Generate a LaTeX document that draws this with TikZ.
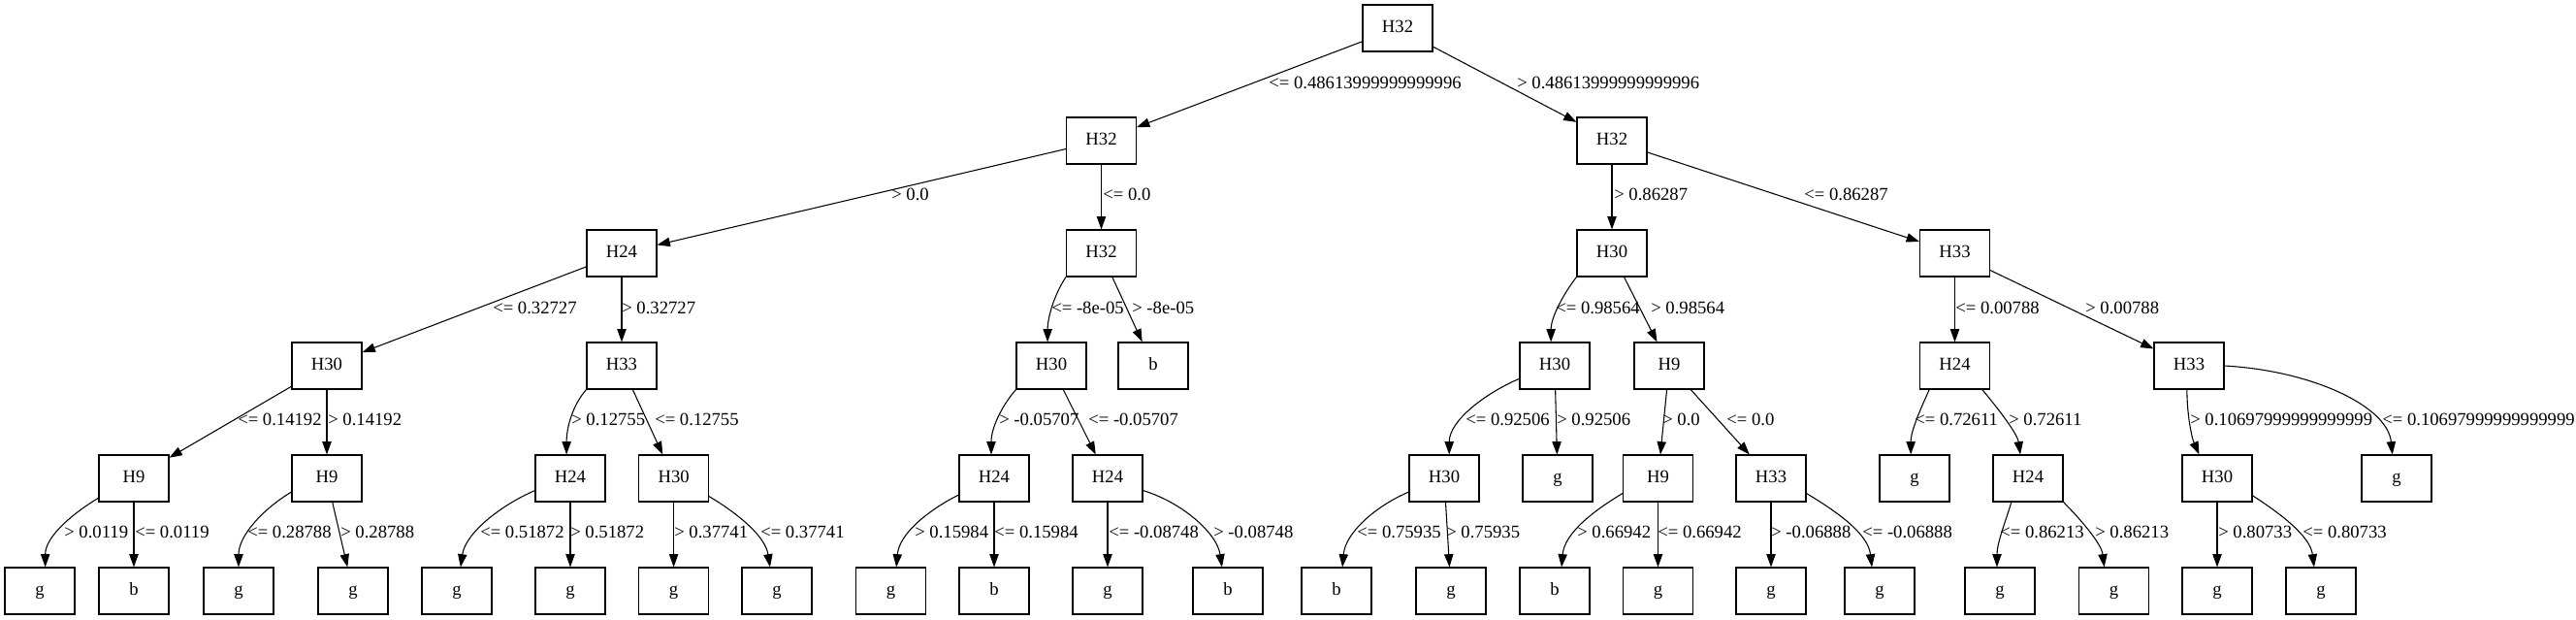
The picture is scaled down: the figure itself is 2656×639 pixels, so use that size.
\documentclass[tikz,border=0pt]{standalone}
\usepackage{fontspec}
\setmainfont{Liberation Serif}
\usetikzlibrary{arrows.meta}

\tikzset{
    dnode/.style={draw, line width=0.8pt, minimum width=54pt, minimum height=36pt, inner sep=0pt,
        text height=0.66em, text depth=0pt, font=\fontsize{14}{16}\selectfont},
    elabel/.style={anchor=west, inner sep=0pt, text height=0.66em, text depth=0pt,
        font=\fontsize{14}{16}\selectfont},
    conn/.style={line width=0.8pt, -{Triangle[length=10pt, width=7pt]}}
}

\begin{document}
\begin{tikzpicture}[x=0.75pt, y=-0.75pt]
    \useasboundingbox (0, 0) rectangle (2656, 639);

    \node [dnode] (t) at (1441, 29) {H32};

    \node [dnode] (tl) at (1135.5, 145) {H32};
    \node [dnode] (tr) at (1662, 145) {H32};

    \node [dnode] (tll) at (641, 261) {H24};
    \node [dnode] (tlr) at (1135.5, 261) {H32};
    \node [dnode] (trl) at (1662, 261) {H30};
    \node [dnode] (trr) at (2015.5, 261) {H33};

    \node [dnode] (tlll) at (337, 377) {H30};
    \node [dnode] (tllr) at (641, 377) {H33};
    \node [dnode] (tlrl) at (1084, 377) {H30};
    \node [dnode] (tlrr) at (1189, 377) {b};
    \node [dnode] (trll) at (1603, 377) {H30};
    \node [dnode] (trlr) at (1721, 377) {H9};
    \node [dnode] (trrl) at (2015.5, 377) {H24};
    \node [dnode] (trrr) at (2257, 377) {H33};

    \node [dnode] (tllll) at (138, 493) {H9};
    \node [dnode] (tlllr) at (337, 493) {H9};
    \node [dnode] (tllrl) at (588, 493) {H24};
    \node [dnode] (tllrr) at (694.6, 493) {H30};
    \node [dnode] (tlrll) at (1025, 493) {H24};
    \node [dnode] (tlrlr) at (1142, 493) {H24};
    \node [dnode] (trlll) at (1489, 493) {H30};
    \node [dnode] (trllr) at (1606, 493) {g};
    \node [dnode] (trlrl) at (1709.5, 493) {H9};
    \node [dnode] (trlrr) at (1826, 493) {H33};
    \node [dnode] (trrll) at (1974, 493) {g};
    \node [dnode] (trrlr) at (2091, 493) {H24};
    \node [dnode] (trrrl) at (2286, 493) {H30};
    \node [dnode] (trrrr) at (2471, 493) {g};

    \node [dnode] (tlllll) at (41, 609) {g};
    \node [dnode] (tllllr) at (138, 609) {b};
    \node [dnode] (tlllrl) at (246, 609) {g};
    \node [dnode] (tlllrr) at (364, 609) {g};
    \node [dnode] (tllrll) at (471, 609) {g};
    \node [dnode] (tllrlr) at (588, 609) {g};
    \node [dnode] (tllrrl) at (694.6, 609) {g};
    \node [dnode] (tllrrr) at (801, 609) {g};
    \node [dnode] (tlrlll) at (918.5, 609) {g};
    \node [dnode] (tlrllr) at (1025, 609) {b};
    \node [dnode] (tlrlrl) at (1142, 609) {g};
    \node [dnode] (tlrlrr) at (1266, 609) {b};
    \node [dnode] (trllll) at (1378, 609) {b};
    \node [dnode] (trlllr) at (1496, 609) {g};
    \node [dnode] (trlrll) at (1603, 609) {b};
    \node [dnode] (trlrlr) at (1709.5, 609) {g};
    \node [dnode] (trlrrl) at (1826, 609) {g};
    \node [dnode] (trlrrr) at (1938, 609) {g};
    \node [dnode] (trrlrl) at (2062, 609) {g};
    \node [dnode] (trrlrr) at (2179.5, 609) {g};
    \node [dnode] (trrrll) at (2286, 609) {g};
    \node [dnode] (trrrlr) at (2393, 609) {g};

    \draw [conn] (t) -- (tl);
    \draw [conn] (t) -- (tr);
    \draw [conn] (tl) -- (tll);
    \draw [conn] (tl) -- (tlr);
    \draw [conn] (tr) -- (trl);
    \draw [conn] (tr) -- (trr);
    \draw [conn] (tll) -- (tlll);
    \draw [conn] (tll) -- (tllr);
    \draw [conn] (tlr.south west) .. controls +(-12, 18) and +(0, -25) .. (tlrl.99);
    \draw [conn] (tlr) -- (tlrr);
    \draw [conn] (trl.south west) .. controls +(-14, 18) and +(0, -25) .. (trll.99);
    \draw [conn] (trl) -- (trlr);
    \draw [conn] (trr) -- (trrl);
    \draw [conn] (trr) -- (trrr);

    \draw [conn] (tlll) -- (tllll);
    \draw [conn] (tlll) -- (tlllr);
    \draw [conn] (tllr.south west) .. controls +(-14, 16) and +(0, -28) .. (tllrl.99);
    \draw [conn] (tllr) -- (tllrr);
    \draw [conn] (tlrl.south west) .. controls +(-14, 16) and +(0, -28) .. (tlrll.97);
    \draw [conn] (tlrl) -- (tlrlr);
    \draw [conn] (trll.200) .. controls +(-35, 15) and +(0, -35) .. (trlll.78);
    \draw [conn] (trll) -- (trllr);
    \draw [conn] (trlr) -- (trlrl);
    \draw [conn] (trlr) -- (trlrr);
    \draw [conn] (trrl.223) .. controls +(-8, 18) and +(0, -25) .. (trrll.99);
    \draw [conn] (trrl.319) .. controls +(12, 14) and +(-3, -22) .. (trrlr.108);
    \draw [conn] (trrr.265) .. controls +(0, 25) and +(-8, -18) .. (trrrl.127);
    \draw [conn] (trrr.east) .. controls +(90, 5) and +(-5, -50) .. (trrrr.100);

    \draw [conn] (tllll.209) .. controls +(-25, 15) and +(0, -32) .. (tlllll.77);
    \draw [conn] (tllll) -- (tllllr);
    \draw [conn] (tlllr.201) .. controls +(-30, 18) and +(0, -32) .. (tlllrl.north);
    \draw [conn] (tlllr) -- (tlllrr);
    \draw [conn] (tllrl.199) .. controls +(-35, 15) and +(5, -35) .. (tllrll.81);
    \draw [conn] (tllrl) -- (tllrlr);
    \draw [conn] (tllrr) -- (tllrrl);
    \draw [conn] (tllrr.333) .. controls +(30, 18) and +(-5, -32) .. (tllrrr.106);
    \draw [conn] (tlrll.205) .. controls +(-30, 15) and +(3, -35) .. (tlrlll.77);
    \draw [conn] (tlrll) -- (tlrllr);
    \draw [conn] (tlrlr) -- (tlrlrl);
    \draw [conn] (tlrlr.341) .. controls +(40, 12) and +(-5, -35) .. (tlrlrr.104);
    \draw [conn] (trlll.201) .. controls +(-35, 15) and +(3, -35) .. (trllll.76);
    \draw [conn] (trlll) -- (trlllr);
    \draw [conn] (trlrl.203) .. controls +(-30, 18) and +(3, -35) .. (trlrll.74);
    \draw [conn] (trlrl) -- (trlrlr);
    \draw [conn] (trlrr) -- (trlrrl);
    \draw [conn] (trlrr.337) .. controls +(30, 18) and +(-4, -35) .. (trlrrr.108);
    \draw [conn] (trrlr.235) .. controls +(-6, 20) and +(0, -25) .. (trrlrl.97);
    \draw [conn] (trrlr.south east) .. controls +(15, 15) and +(-3, -25) .. (trrlrr.112);
    \draw [conn] (trrrl) -- (trrrll);
    \draw [conn] (trrrl.334) .. controls +(28, 18) and +(-4, -32) .. (trrrlr.106);

    \node [elabel] (ltl) at (1308, 87) {<= 0.48613999999999996};
    \node [elabel] (ltr) at (1564, 87) {> 0.48613999999999996};

    \node [elabel] (ltll) at (919, 202) {> 0.0};
    \node [elabel] (ltlr) at (1137, 202) {<= 0.0};
    \node [elabel] (ltrl) at (1664, 202) {> 0.86287};
    \node [elabel] (ltrr) at (1860, 202) {<= 0.86287};

    \node [elabel] (ltlll) at (508, 319) {<= 0.32727};
    \node [elabel] (ltllr) at (641, 319) {> 0.32727};
    \node [elabel] (ltlrl) at (1084, 319) {<= -8e-05};
    \node [elabel] (ltlrr) at (1167, 319) {> -8e-05};
    \node [elabel] (ltrll) at (1604, 319) {<= 0.98564};
    \node [elabel] (ltrlr) at (1702, 319) {> 0.98564};
    \node [elabel] (ltrrl) at (2016, 319) {<= 0.00788};
    \node [elabel] (ltrrr) at (2150, 319) {> 0.00788};

    \node [elabel] (ltllll) at (245, 434) {<= 0.14192};
    \node [elabel] (ltlllr) at (338, 434) {> 0.14192};
    \node [elabel] (ltllrl) at (589, 434) {> 0.12755};
    \node [elabel] (ltllrr) at (675, 434) {<= 0.12755};
    \node [elabel] (ltlrll) at (1030, 434) {> -0.05707};
    \node [elabel] (ltlrlr) at (1122, 434) {<= -0.05707};
    \node [elabel] (ltrlll) at (1511, 434) {<= 0.92506};
    \node [elabel] (ltrllr) at (1605, 434) {> 0.92506};
    \node [elabel] (ltrlrl) at (1714, 434) {> 0.0};
    \node [elabel] (ltrlrr) at (1780, 434) {<= 0.0};
    \node [elabel] (ltrrll) at (1974, 434) {<= 0.72611};
    \node [elabel] (ltrrlr) at (2071, 434) {> 0.72611};
    \node [elabel] (ltrrrl) at (2258, 434) {> 0.10697999999999999};
    \node [elabel] (ltrrrr) at (2456, 434) {<= 0.10697999999999999};

    \node [elabel] (ltlllll) at (66, 550) {> 0.0119};
    \node [elabel] (ltllllr) at (139, 550) {<= 0.0119};
    \node [elabel] (ltlllrl) at (255, 550) {<= 0.28788};
    \node [elabel] (ltlllrr) at (351, 550) {> 0.28788};
    \node [elabel] (ltllrll) at (495, 550) {<= 0.51872};
    \node [elabel] (ltllrlr) at (588, 550) {> 0.51872};
    \node [elabel] (ltllrrl) at (695, 550) {> 0.37741};
    \node [elabel] (ltllrrr) at (784, 550) {<= 0.37741};
    \node [elabel] (ltlrlll) at (943, 550) {> 0.15984};
    \node [elabel] (ltlrllr) at (1025, 550) {<= 0.15984};
    \node [elabel] (ltlrlrl) at (1143, 550) {<= -0.08748};
    \node [elabel] (ltlrlrr) at (1251, 550) {> -0.08748};
    \node [elabel] (ltrllll) at (1399, 550) {<= 0.75935};
    \node [elabel] (ltrlllr) at (1491, 550) {> 0.75935};
    \node [elabel] (ltrlrll) at (1626, 550) {> 0.66942};
    \node [elabel] (ltrlrlr) at (1709, 550) {<= 0.66942};
    \node [elabel] (ltrlrrl) at (1826, 550) {> -0.06888};
    \node [elabel] (ltrlrrr) at (1920, 550) {<= -0.06888};
    \node [elabel] (ltrrlrl) at (2062, 550) {<= 0.86213};
    \node [elabel] (ltrrlrr) at (2160, 550) {> 0.86213};
    \node [elabel] (ltrrrll) at (2287, 550) {> 0.80733};
    \node [elabel] (ltrrrlr) at (2374, 550) {<= 0.80733};
\end{tikzpicture}
\end{document}
